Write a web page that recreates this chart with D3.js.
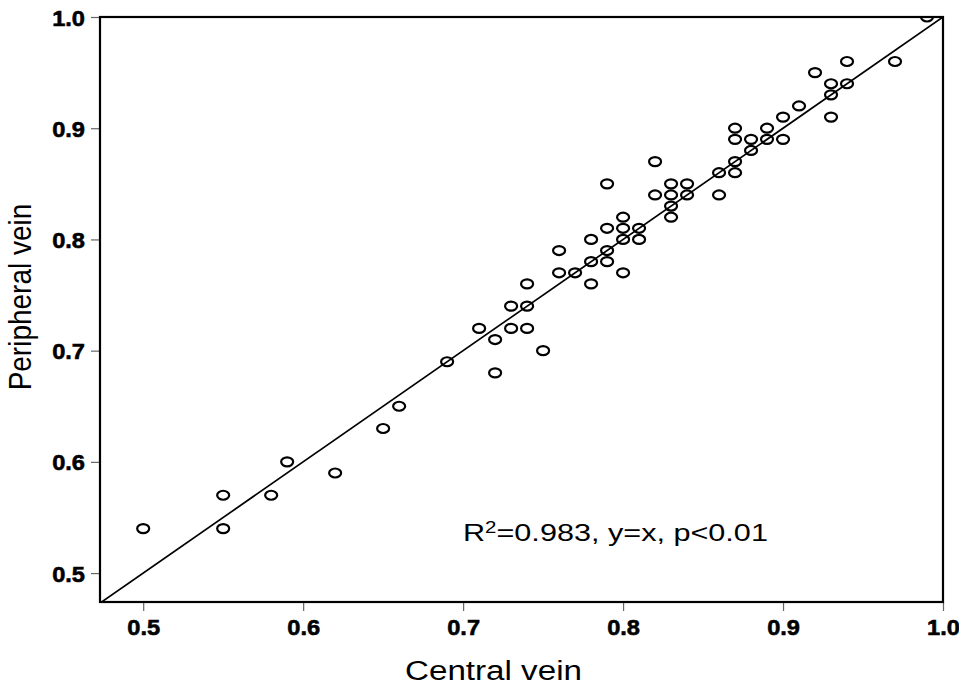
<!DOCTYPE html>
<html>
<head>
<meta charset="utf-8">
<script src="https://cdn.jsdelivr.net/npm/d3@7"></script>
<style>
html,body{margin:0;padding:0;background:#fff;}
svg{display:block;font-family:"Liberation Sans",Arial,sans-serif;}
</style>
</head>
<body>
<svg id="chart" width="959" height="688"></svg>
<script>
// Data
const centralVein = [0.50,0.55,0.55,0.58,0.59,0.62,0.65,0.66,0.69,0.71,0.72,0.72,0.73,0.73,0.74,0.74,0.74,0.75,0.76,0.76,0.77,0.78,0.78,0.78,0.79,0.79,0.79,0.79,0.80,0.80,0.80,0.80,0.81,0.81,0.82,0.82,0.83,0.83,0.83,0.83,0.84,0.84,0.86,0.86,0.87,0.87,0.87,0.87,0.88,0.88,0.89,0.89,0.90,0.90,0.91,0.92,0.93,0.93,0.93,0.94,0.94,0.97,0.99];
const peripheralVein = [0.54,0.57,0.54,0.57,0.60,0.59,0.63,0.65,0.69,0.72,0.71,0.68,0.74,0.72,0.76,0.74,0.72,0.70,0.79,0.77,0.77,0.80,0.78,0.76,0.85,0.81,0.79,0.78,0.82,0.81,0.80,0.77,0.81,0.80,0.87,0.84,0.85,0.84,0.83,0.82,0.85,0.84,0.86,0.84,0.90,0.89,0.87,0.86,0.89,0.88,0.90,0.89,0.91,0.89,0.92,0.95,0.94,0.93,0.91,0.96,0.94,0.96,1.00];
const xTicks = [0.5,0.6,0.7,0.8,0.9,1.0];
const yTicks = [0.5,0.6,0.7,0.8,0.9,1.0];
const xDomain = [0.473,1.0];
const yDomain = [0.474,1.0];
const fitLine = [0.47,1.0]; // y = x
const xTitle = "Central vein";
const yTitle = "Peripheral vein";

const W = 959, H = 688;
const m = {l:100, t:17, r:16, b:86};
const svg = d3.select("#chart");

const x = d3.scaleLinear().domain(xDomain).range([m.l, W - m.r]);
const y = d3.scaleLinear().domain(yDomain).range([H - m.b, m.t]);

svg.append("defs").append("clipPath").attr("id","plotclip")
  .append("rect").attr("x", m.l).attr("y", m.t)
  .attr("width", W - m.l - m.r).attr("height", H - m.t - m.b);

function stretch(sel, target, ox, oy){
  const w = sel.node().getBBox().width;
  const s = target / w;
  sel.attr("transform", `translate(${ox},${oy}) scale(${s},1)`);
}

const xAxis = svg.append("g")
  .attr("transform", `translate(0,${H - m.b})`)
  .call(d3.axisBottom(x).tickValues(xTicks).tickFormat(d3.format(".1f")).tickSize(9).tickSizeOuter(0));
const yAxis = svg.append("g")
  .attr("transform", `translate(${m.l},0)`)
  .call(d3.axisLeft(y).tickValues(yTicks).tickFormat(d3.format(".1f")).tickSize(9).tickSizeOuter(0));

[xAxis, yAxis].forEach(g => {
  g.select(".domain").remove();
  g.selectAll(".tick line").attr("stroke", "#666").attr("stroke-width", 1.2);
  g.selectAll(".tick text")
    .attr("fill", "#000")
    .attr("stroke", "#000").attr("stroke-width", 0.6)
    .attr("font-family", "'Liberation Sans',Arial,sans-serif")
    .attr("font-weight", "bold")
    .attr("font-size", 22.5);
});
xAxis.selectAll(".tick text").attr("dy", null).attr("y", 0)
  .attr("transform", "translate(0,33) scale(1.05,1)");
yAxis.selectAll(".tick text").attr("x", 0).attr("dy", "0.36em")
  .attr("transform", "translate(-15,0) scale(1.05,1)");

svg.append("rect")
  .attr("x", m.l).attr("y", m.t)
  .attr("width", W - m.l - m.r).attr("height", H - m.t - m.b)
  .attr("fill", "none").attr("stroke", "#000").attr("stroke-width", 2.2);

const plot = svg.append("g").attr("clip-path", "url(#plotclip)");

plot.append("line")
  .attr("x1", x(fitLine[0])).attr("y1", y(fitLine[0]))
  .attr("x2", x(fitLine[1])).attr("y2", y(fitLine[1]))
  .attr("stroke", "#000").attr("stroke-width", 1.7);

plot.selectAll("ellipse.pt")
  .data(centralVein.map((c, i) => [c, peripheralVein[i]]))
  .join("ellipse").attr("class", "pt")
  .attr("cx", d => x(d[0])).attr("cy", d => y(d[1]))
  .attr("rx", 6).attr("ry", 4.5)
  .attr("fill", "none").attr("stroke", "#000").attr("stroke-width", 2.2);

const ann = svg.append("text")
  .attr("font-size", 24).attr("fill", "#000").attr("x", 0).attr("y", 0);
ann.append("tspan").text("R");
ann.append("tspan").attr("font-size", 16).attr("dy", -8).text("2");
ann.append("tspan").attr("dy", 8).text("=0.983, y=x, p<0.01");
stretch(ann, 305, 463, 541);

const xt = svg.append("text").attr("font-size", 28).attr("fill", "#000")
  .attr("x", 0).attr("y", 0).text(xTitle);
stretch(xt, 177, 405, 680);

const yt = svg.append("text").attr("font-size", 28).attr("fill", "#000")
  .attr("text-anchor", "middle").attr("x", 0).attr("y", 0).text(yTitle);
yt.attr("transform", "translate(31,297) rotate(-90) scale(1,1.12)");
</script>
</body>
</html>
